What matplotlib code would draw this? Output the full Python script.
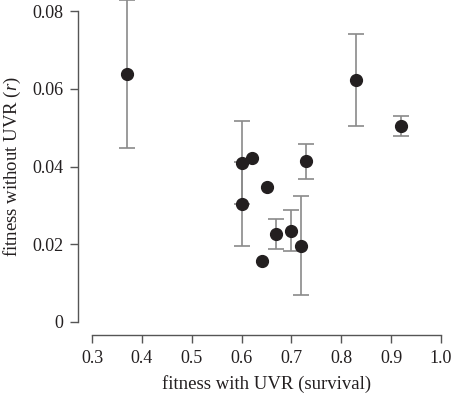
#!/usr/bin/env python

import numpy as np
import matplotlib
matplotlib.use('Agg')
from matplotlib import pyplot as plt

plt.rcParams['font.family'] = ['Liberation Serif', 'DejaVu Serif']
plt.rcParams['mathtext.fontset'] = 'custom'
plt.rcParams['mathtext.it'] = 'Liberation Serif:italic'
plt.rcParams['mathtext.rm'] = 'Liberation Serif'

# fitness with UVR (survival) vs fitness without UVR (r)
survival = [0.37, 0.60, 0.60, 0.62, 0.64, 0.65, 0.67, 0.70, 0.72, 0.73, 0.83, 0.92]
growth = [0.0638, 0.0410, 0.0303, 0.0423, 0.0157, 0.0347, 0.0226, 0.0235, 0.0196, 0.0414, 0.0623, 0.0504]
growth_err = [0.0190, 0.0107, 0.0108, 0.0, 0.0, 0.0, 0.0039, 0.0053, 0.0127, 0.0045, 0.0118, 0.0025]

xticks = [0.3, 0.4, 0.5, 0.6, 0.7, 0.8, 0.9, 1.0]
yticks = [0, 0.02, 0.04, 0.06, 0.08]
yticklabels = ['0', '0.02', '0.04', '0.06', '0.08']

ink = '#231f20'

def plot():
    fig = plt.figure(figsize=(4.52, 3.97), dpi=100)
    ax = fig.add_axes([92 / 452, 75 / 397, 349 / 452, 311 / 397])

    x = np.array(survival)
    y = np.array(growth)
    err = np.array(growth_err)
    # error bars hidden behind the marker are not drawn
    has_err = err > 0

    ax.errorbar(x[has_err], y[has_err], yerr=err[has_err], fmt='none',
                ecolor='#8a8a8a', elinewidth=1.2, capsize=5.5, capthick=1.2,
                clip_on=False, zorder=2)
    ax.plot(x, y, 'o', color=ink, markersize=8.5, clip_on=False, zorder=3)

    ax.set_xlim(0.3, 1.0)
    ax.set_ylim(0, 0.08)
    ax.set_xticks(xticks)
    ax.set_xticklabels([f'{v:.1f}' for v in xticks])
    ax.set_yticks(yticks)
    ax.set_yticklabels(yticklabels)

    for side in ['top', 'right']:
        ax.spines[side].set_visible(False)
    ax.spines['left'].set_position(('outward', 10))
    ax.spines['bottom'].set_position(('outward', 9.5))
    for side in ['left', 'bottom']:
        ax.spines[side].set_color('#555555')
        ax.spines[side].set_linewidth(1.0)

    ax.tick_params(direction='out', length=5.5, width=1.0, color='#555555',
                   labelsize=13, labelcolor=ink, pad=5)

    ax.set_xlabel('fitness with UVR (survival)', fontsize=13.5, color=ink, labelpad=6)
    ax.set_ylabel('fitness without UVR ($\\it{r}$)', fontsize=13.5, color=ink, labelpad=7)

    fig.savefig('out.png', dpi=100)
    plt.close(fig)

def main():
    plot()

if __name__ == '__main__':
    main()
